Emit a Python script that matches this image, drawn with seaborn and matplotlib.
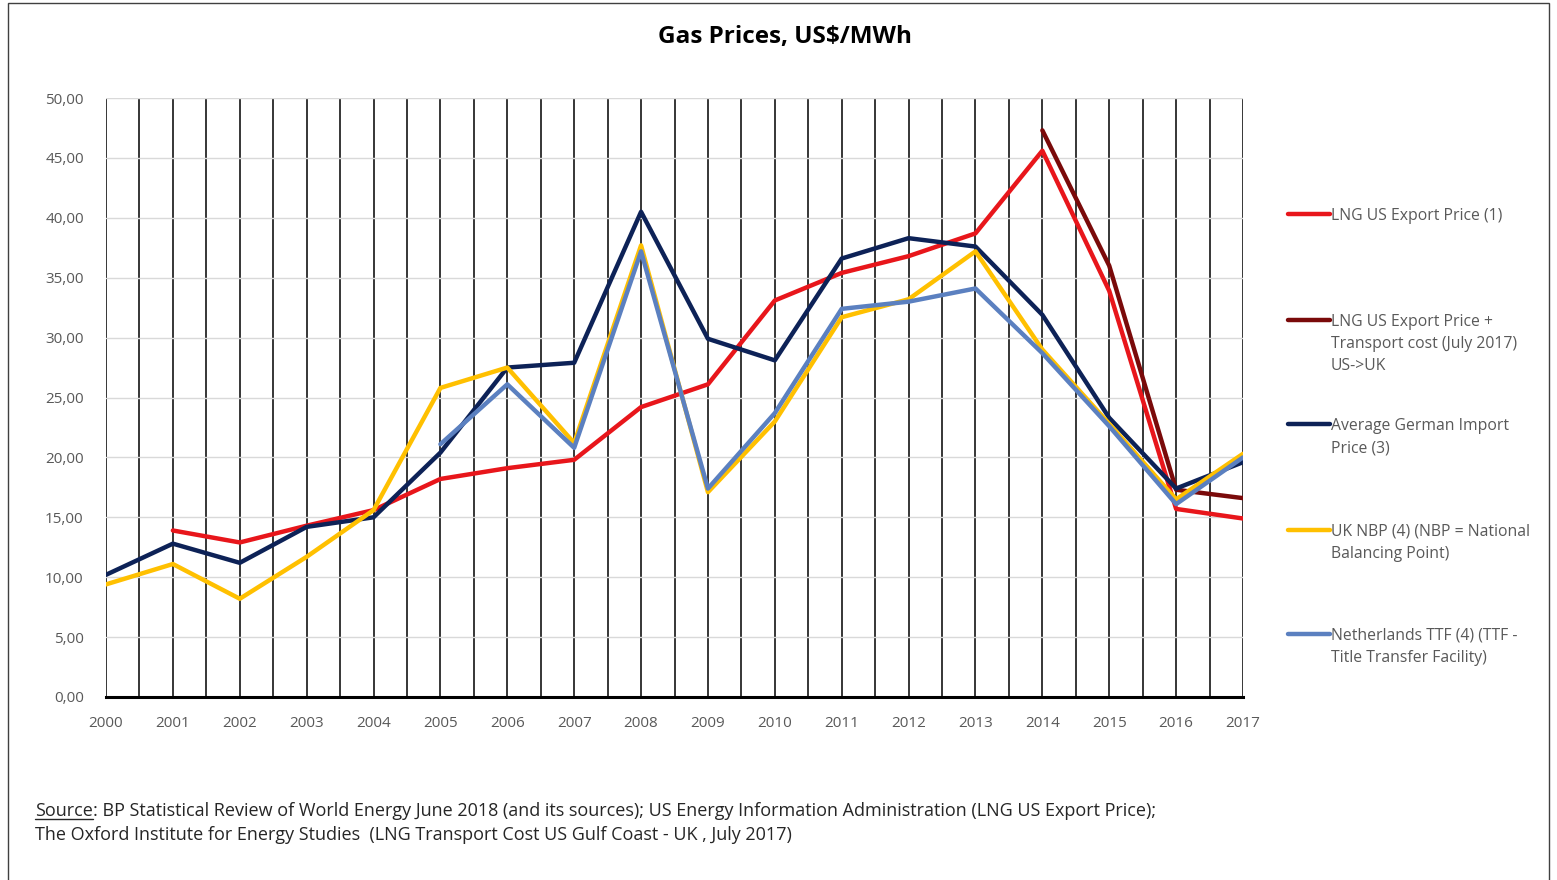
import numpy as np
import pandas as pd
import matplotlib
matplotlib.use("Agg")
import matplotlib.pyplot as plt
from matplotlib.lines import Line2D
from matplotlib.patches import Rectangle
from matplotlib.ticker import FuncFormatter, MultipleLocator
import seaborn as sns

# Data (US$/MWh)
years = list(range(2000, 2018))
lng_us = [np.nan, 13.9, 12.9, 14.3, 15.6, 18.2, 19.1, 19.8, 24.2, 26.1,
          33.1, 35.4, 36.8, 38.7, 45.6, 33.9, 15.7, 14.9]
lng_us_transport = [np.nan] * 14 + [47.3, 36.0, 17.3, 16.6]
german_import = [10.2, 12.8, 11.2, 14.2, 15.0, 20.4, 27.5, 27.9, 40.5, 29.9,
                 28.1, 36.6, 38.3, 37.6, 31.9, 23.3, 17.4, 19.6]
uk_nbp = [9.4, 11.1, 8.2, 11.7, 15.6, 25.8, 27.5, 21.2, 37.7, 17.1,
          23.0, 31.7, 33.2, 37.2, 29.0, 22.8, 16.5, 20.3]
nl_ttf = [np.nan] * 5 + [21.1, 26.1, 20.8, 37.2, 17.4,
                         23.7, 32.4, 33.0, 34.1, 28.7, 22.6, 16.1, 20.0]

series_names = ["LNG US Export Price (1)",
                "LNG US Export Price +\nTransport cost (July 2017)\nUS->UK",
                "Average German Import\nPrice (3)",
                "UK NBP (4) (NBP = National\nBalancing Point)",
                "Netherlands TTF (4) (TTF -\nTitle Transfer Facility)"]
series_values = [lng_us, lng_us_transport, german_import, uk_nbp, nl_ttf]
colors = ["#E8161B", "#7A0A0A", "#0D2257", "#FFC000", "#5B80C0"]

frames = []
for name, vals in zip(series_names, series_values):
    frames.append(pd.DataFrame({"Year": years, "Price": vals, "Series": name}))
df = pd.concat(frames).dropna()

sns.set_theme(style="white")
plt.rcParams["font.family"] = ["Open Sans", "DejaVu Sans"]

fig = plt.figure(figsize=(15.57, 8.80), dpi=100)
ax = fig.add_axes([106 / 1557, 1 - 697 / 880, (1243 - 106) / 1557, (697 - 98) / 880])

sns.lineplot(data=df, x="Year", y="Price", hue="Series", hue_order=series_names,
             palette=dict(zip(series_names, colors)), linewidth=3.2,
             legend=False, ax=ax, zorder=3)

ax.set_xlim(2000, 2017)
ax.set_ylim(0, 50)
ax.xaxis.set_major_locator(MultipleLocator(1))
ax.xaxis.set_minor_locator(MultipleLocator(0.5))
ax.yaxis.set_major_locator(MultipleLocator(5))
ax.yaxis.set_major_formatter(FuncFormatter(lambda v, p: f"{v:.2f}".replace(".", ",")))
ax.grid(axis="y", color="#D9D9D9", linewidth=1)
ax.grid(axis="x", which="both", color="black", linewidth=1.1)
ax.set_axisbelow(True)
for s in ["top", "right", "left"]:
    ax.spines[s].set_visible(False)
ax.spines["bottom"].set_color("black")
ax.spines["bottom"].set_linewidth(2.2)
ax.set_xlabel("")
ax.set_ylabel("")
ax.tick_params(axis="both", length=0, labelsize=11, labelcolor="#595959")
ax.tick_params(axis="x", pad=14)
ax.tick_params(axis="y", pad=16)

# Title
fig.text(785 / 1557, 1 - 37 / 880, "Gas Prices, US\\$/MWh", ha="center", va="center",
         fontsize=17.5, fontweight="bold", color="black")

# Legend drawn on the right
legend_y = [214, 320, 424, 530, 634]
for name, col, y in zip(series_names, colors, legend_y):
    fig.add_artist(Line2D([1288 / 1557, 1330 / 1557], [1 - y / 880] * 2,
                          color=col, linewidth=3.2, transform=fig.transFigure))
    fig.text(1331 / 1557, 1 - (y - 6) / 880, name, ha="left", va="top",
             fontsize=11.3, color="#595959", linespacing=1.5)

# Source note
fs = 13
src = fig.text(35 / 1557, 1 - 811 / 880, "Source", ha="left", va="center",
               fontsize=fs, color="#262626")
fig.canvas.draw()
bb = src.get_window_extent()
fig.text(bb.x1 / 1557, 1 - 811 / 880,
         ": BP Statistical Review of World Energy June 2018 (and its sources); "
         "US Energy Information Administration (LNG US Export Price);",
         ha="left", va="center", fontsize=fs, color="#262626")
fig.add_artist(Line2D([bb.x0 / 1557, bb.x1 / 1557], [(bb.y0 + 1) / 880] * 2,
                      color="#262626", linewidth=1, transform=fig.transFigure))
fig.text(35 / 1557, 1 - 835 / 880,
         "The Oxford Institute for Energy Studies  (LNG Transport Cost US Gulf Coast - UK , July 2017)",
         ha="left", va="center", fontsize=fs, color="#262626")

# Frame around the chart
fig.add_artist(Rectangle((8 / 1557, -0.01), (1549 - 8) / 1557, 1 - 3 / 880 + 0.01,
                         fill=False, edgecolor="#404040", linewidth=1,
                         transform=fig.transFigure))

fig.savefig("out.png", dpi=100)
